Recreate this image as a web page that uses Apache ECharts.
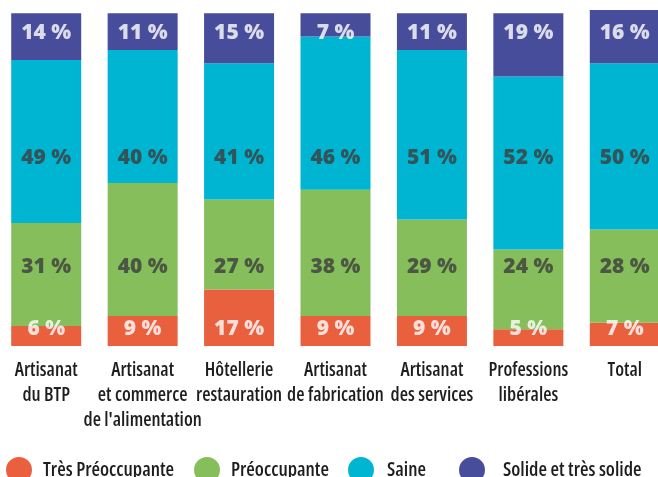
<!DOCTYPE html>
<html lang="fr">
<head>
    <meta charset="UTF-8">
    <script src="https://cdnjs.cloudflare.com/ajax/libs/echarts/6.0.0/echarts.min.js"></script>
    <title>Santé financière</title>
    <style>
        html, body { margin: 0; padding: 0; background: #fff; }
    </style>
</head>
<body>

<div id="chart" style="width: 658px;height: 477px"></div>

<script type="text/javascript">
    var categories = ['Artisanat\ndu BTP', 'Artisanat\net commerce\nde l\'alimentation', 'Hôtellerie\nrestauration',
        'Artisanat\nde fabrication', 'Artisanat\ndes services', 'Professions\nlibérales', 'Total']

    var tresPreoccupante = [6, 9, 17, 9, 9, 5, 7]
    var preoccupante = [31, 40, 27, 38, 29, 24, 28]
    var saine = [49, 40, 41, 46, 51, 52, 50]
    var solide = [14, 11, 15, 7, 11, 19, 16]

    var seriesNames = ['Très Préoccupante', 'Préoccupante', 'Saine', 'Solide et très solide']
    var colors = ['#e9603f', '#85be5a', '#00b5d1', '#474d9b']

    // police étroite : Open Sans en largeur condensée
    var narrowFamily = '"Open Sans", sans-serif'
    var narrowWeight = '600 condensed'

    var myChart = echarts.init(document.getElementById('chart'));

    function barSerie(name, data, color) {
        return {
            name: name,
            type: 'bar',
            stack: 'total',
            barWidth: 70,
            itemStyle: { color: color },
            data: data
        }
    }

    // les étiquettes sont alignées sur des niveaux fixes dans l'original
    function labelSerie(data, level, color) {
        return {
            type: 'scatter',
            symbolSize: 0,
            silent: true,
            z: 5,
            data: categories.map(function (c) { return [c, level] }),
            label: {
                show: true,
                position: 'inside',
                color: color,
                textBorderWidth: 0,
                fontFamily: '"Open Sans", sans-serif',
                fontWeight: 800,
                fontSize: 21,
                formatter: function (p) { return data[p.dataIndex] + ' %' }
            }
        }
    }

    function legendAt(name, left, pad) {
        return {
            data: [name],
            left: left,
            top: 457,
            padding: 0,
            icon: 'circle',
            itemWidth: 26,
            itemHeight: 26,
            selectedMode: false,
            textStyle: {
                fontFamily: narrowFamily,
                fontWeight: narrowWeight,
                fontSize: 19.5,
                color: '#1e1e1e',
                padding: [0, 0, 0, pad]
            }
        }
    }

    var option = {
        animation: false,
        grid: { left: -2, width: 675, top: 10, bottom: 131, containLabel: false, outerBoundsMode: 'none' },
        legend: [
            legendAt(seriesNames[0], 6, 6),
            legendAt(seriesNames[1], 194, 6),
            legendAt(seriesNames[2], 348, 8),
            legendAt(seriesNames[3], 459, 13)
        ],
        xAxis: {
            type: 'category',
            data: categories,
            axisLine: { show: false },
            axisTick: { show: false },
            axisLabel: {
                interval: 0,
                margin: 12,
                fontFamily: narrowFamily,
                fontWeight: narrowWeight,
                fontSize: 19,
                lineHeight: 25,
                color: '#1e1e1e'
            }
        },
        yAxis: {
            type: 'value',
            min: 0,
            max: 101,
            show: false,
            splitLine: { show: false }
        },
        series: [
            barSerie(seriesNames[0], tresPreoccupante, colors[0]),
            barSerie(seriesNames[1], preoccupante, colors[1]),
            barSerie(seriesNames[2], saine, colors[2]),
            barSerie(seriesNames[3], solide, colors[3]),
            labelSerie(tresPreoccupante, 5.1, '#ffffff'),
            labelSerie(preoccupante, 23.7, '#3d3d3d'),
            labelSerie(saine, 56.5, '#3d3d3d'),
            labelSerie(solide, 94.2, '#ffffff')
        ]
    };
    myChart.setOption(option);
</script>
</body>
</html>
